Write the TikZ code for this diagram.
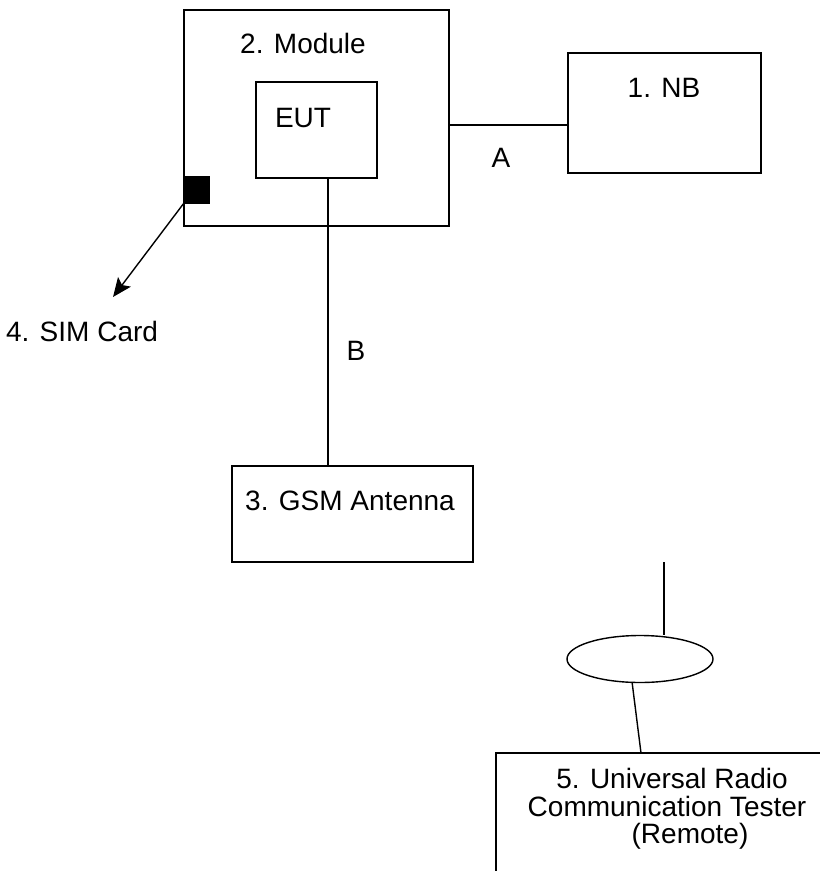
\documentclass[tikz,border=0pt]{standalone}
\usepackage{fontspec}
\setmainfont{Liberation Sans}
\usetikzlibrary{arrows.meta,shapes.geometric}
\begin{document}
\begin{tikzpicture}[x=1pt,y=-1pt,
  box/.style={draw, line width=1.4pt, inner sep=0pt, outer sep=0pt, anchor=north west},
  lbl/.style={anchor=base, inner sep=0pt, font=\fontsize{28}{30}\selectfont},
  wire/.style={line width=1.4pt}]
\clip (0,0) rectangle (820,871);
\fill[white] (0,0) rectangle (820,871);
% boxes
\node[box, minimum width=265pt, minimum height=216pt] (module) at (184,10) {};
\node[box, minimum width=121pt, minimum height=96pt] (eut) at (256,82) {};
\node[box, minimum width=193pt, minimum height=120pt] (nb) at (568,53) {};
\node[box, minimum width=241pt, minimum height=96pt] (ant) at (232,466) {};
\node[box, minimum width=400pt, minimum height=200pt] (tester) at (496,753) {};
\node[box, fill=black, minimum width=25pt, minimum height=26pt] (sim) at (184,177) {};
\node[draw, ellipse, line width=1.4pt, inner sep=0pt, minimum width=146pt, minimum height=47pt] (ell) at (640,659) {};
% labels
\node[lbl] (tmodule) at (303,53) {2. Module};
\node[lbl] (teut) at (303,127) {EUT};
\node[lbl] (tnb) at (664,97) {1. NB};
\node[lbl] (ta) at (501,167) {A};
\node[lbl] (tb) at (356,360) {B};
\node[lbl] (tant) at (350,510) {3. GSM Antenna};
\node[lbl] (tsim) at (82,341) {4. SIM Card};
\node[lbl] (t1) at (672,788) {5. Universal Radio};
\node[lbl] (t2) at (667,816) {Communication Tester};
\node[lbl] (t3) at (690,843) {(Remote)};
% connectors
\draw[wire] (module.east |- 0,125) -- (nb.west |- 0,125);
\draw[wire] (eut.south -| 328,0) -- (ant.north -| 328,0);
\coordinate (simtip) at (113,297);
\draw[wire, -{Stealth[length=19pt,width=16pt,inset=4pt]}] (sim.south west) -- (simtip);
\coordinate (mast) at (664,562);
\draw[wire] (mast) -- (ell.north -| mast);
\draw[wire] (ell.252) -- (tester.north west -| 641,0);
\end{tikzpicture}
\end{document}
